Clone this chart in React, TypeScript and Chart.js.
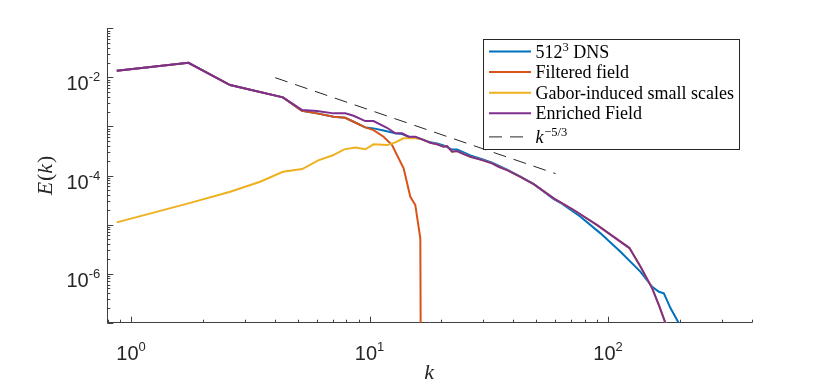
import React, { useEffect, useRef } from 'react';
import { Chart, registerables } from 'chart.js';

Chart.register(...registerables);

// ---------- data ----------
const kDNS = [0.871, 1.74, 2.603, 4.331, 5.204, 6.016, 7.064, 7.907, 8.568, 9.594, 10.39, 11.45, 12.82, 13.68, 14.58, 15.55, 16.6, 17.97, 19.18, 20.44, 22.17, 23.27, 24.8, 26.46, 29.64, 32.63, 37.72, 42.9, 48.77, 59.18, 63.14, 76.6, 92.93, 112.7, 136.8, 153.1, 163.3, 171.3, 182.8, 198.1];
const eDNS = [0.01363, 0.01984, 0.00697, 0.00391, 0.002086, 0.001846, 0.001574, 0.001502, 0.001245, 0.000957, 0.000913, 0.000823, 0.000722, 0.000699, 0.000616, 0.000599, 0.000545, 0.000474, 0.000452, 0.000411, 0.000338, 0.000338, 0.000296, 0.000257, 0.000216, 0.000182, 0.000132, 0.0000951, 0.0000669, 0.0000331, 0.0000278, 0.00001443, 0.00000662, 0.00000279, 0.00000109, 5.4e-7, 4.27e-7, 3.96e-7, 1.96e-7, 9.7e-8];

const kFiltered = [0.871, 1.74, 2.603, 4.331, 5.204, 6.016, 7.064, 7.907, 8.568, 9.594, 10.39, 11.45, 12.42, 13.89, 14.82, 15.55, 16.32, 16.53];
const eFiltered = [0.01363, 0.01984, 0.00697, 0.00391, 0.002086, 0.001846, 0.001574, 0.001502, 0.001245, 0.000957, 0.000843, 0.000616, 0.000417, 0.0001398, 0.0000369, 0.000025, 0.00000524, 1e-12];

const kGabor = [0.871, 1.74, 2.603, 3.478, 4.331, 5.22, 6.091, 6.976, 7.831, 8.709, 9.594, 10.39, 11.87, 12.82, 13.89, 15.55, 16.6, 17.97, 19.18, 20.44, 21.13, 22.17, 23.27, 24.8, 26.46, 29.64, 32.63, 34.77, 37.72, 42.9, 48.77, 59.18, 71.8, 90.0, 122.9, 136.8, 153.1, 163.3, 174.1];
const eGabor = [1.109e-5, 2.7e-5, 4.66e-5, 7.46e-5, 1.192e-4, 1.353e-4, 2.035e-4, 2.549e-4, 3.41e-4, 3.71e-4, 3.42e-4, 4.31e-4, 4.17e-4, 4.74e-4, 5.71e-4, 5.71e-4, 5.45e-4, 4.65e-4, 4.31e-4, 3.85e-4, 3.98e-4, 3.05e-4, 3.15e-4, 2.73e-4, 2.41e-4, 2.06e-4, 1.77e-4, 1.507e-4, 1.291e-4, 9.42e-5, 6.69e-5, 3.42e-5, 1.98e-5, 9.77e-6, 3.32e-6, 1.381e-6, 5.01e-7, 2.29e-7, 9.7e-8];

const kEnriched = [0.871, 1.74, 2.603, 4.331, 5.22, 6.016, 7.064, 7.907, 8.568, 9.594, 10.39, 11.83, 12.82, 13.68, 14.58, 15.55, 16.6, 17.97, 19.18, 20.44, 21.13, 22.17, 23.27, 24.8, 26.46, 29.64, 32.63, 34.77, 37.72, 42.9, 48.77, 59.18, 71.8, 90.0, 122.9, 136.8, 153.1, 163.3, 174.1];
const eEnriched = [0.01363, 0.01984, 0.00697, 0.00391, 0.002156, 0.002056, 0.001846, 0.001846, 0.00165, 0.001287, 0.001287, 0.000939, 0.000722, 0.000722, 0.000616, 0.000616, 0.000545, 4.65e-4, 4.31e-4, 3.85e-4, 3.98e-4, 3.05e-4, 3.15e-4, 2.73e-4, 2.41e-4, 2.06e-4, 1.77e-4, 1.507e-4, 1.291e-4, 9.42e-5, 6.69e-5, 3.42e-5, 1.98e-5, 9.77e-6, 3.32e-6, 1.381e-6, 5.01e-7, 2.29e-7, 9.7e-8];

const kRef = [4.02, 60.2];
const eRef = [0.00986, 0.000109];

const legendLabels = ['512^3 DNS', 'Filtered field', 'Gabor-induced small scales', 'Enriched Field', '$k^{-5/3}$'];
const xTitle = '$k$';
const yTitle = '$E(k)$';
const xLabelExponents = [0, 1, 2];
const yLabelExponents = [-6, -4, -2];
const xRange = [0.795, 400];
const yRange = [1e-7, 1e-1];

// ---------- styles ----------
const COLORS = ['#0072BD', '#D95319', '#EDB120', '#7E2F8E', '#262626'];
const AXIS = '#404040';
const SANS = '"Liberation Sans", Arial, Helvetica, sans-serif';
const SERIF = '"Liberation Serif", "Times New Roman", serif';
const DASH = [13, 8];

type Seg = { t: string; sup: boolean; it: boolean };

function parseTex(src: string): Seg[] {
  let s = src;
  let math = false;
  if (s.startsWith('$') && s.endsWith('$')) {
    math = true;
    s = s.slice(1, -1);
  }
  const out: Seg[] = [];
  const push = (t: string, sup: boolean) => {
    for (const ch of t) {
      const c = math && ch === '-' ? '\u2212' : ch;
      const it = math && /[A-Za-z]/.test(ch);
      const last = out[out.length - 1];
      if (last && last.sup === sup && last.it === it) last.t += c;
      else out.push({ t: c, sup, it });
    }
  };
  let i = 0;
  let buf = '';
  while (i < s.length) {
    if (s[i] === '^') {
      push(buf, false);
      buf = '';
      i++;
      let sup = '';
      if (s[i] === '{') {
        const j = s.indexOf('}', i);
        sup = s.slice(i + 1, j);
        i = j + 1;
      } else {
        sup = s[i];
        i++;
      }
      push(sup, true);
    } else {
      buf += s[i];
      i++;
    }
  }
  push(buf, false);
  return out;
}

function drawRich(
  ctx: CanvasRenderingContext2D,
  segs: Seg[],
  x: number,
  y: number,
  family: string,
  size: number,
  supSize: number,
  raise: number,
  align: 'left' | 'right' | 'center'
) {
  const fontOf = (s: Seg) => `${s.it ? 'italic ' : ''}${s.sup ? supSize : size}px ${family}`;
  let w = 0;
  const widths: number[] = [];
  for (const s of segs) {
    ctx.font = fontOf(s);
    const sw = ctx.measureText(s.t).width + (s.it ? size * 0.04 : 0);
    widths.push(sw);
    w += sw;
  }
  let cx = align === 'left' ? x : align === 'right' ? x - w : x - w / 2;
  ctx.textAlign = 'left';
  ctx.textBaseline = 'alphabetic';
  segs.forEach((s, i) => {
    ctx.font = fontOf(s);
    ctx.fillText(s.t, cx, s.sup ? y - raise : y);
    cx += widths[i];
  });
  return w;
}

const overlay = {
  id: 'overlay',
  afterDraw(chart: any) {
    const { ctx, chartArea: ca, scales } = chart;
    const xs = scales.x;
    const ys = scales.y;
    ctx.save();

    // inward tick marks
    ctx.strokeStyle = AXIS;
    ctx.lineWidth = 1;
    ctx.beginPath();
    for (let d = -1; d <= 3; d++) {
      for (let m = 1; m <= 9; m++) {
        const v = m * Math.pow(10, d);
        if (v < xRange[0] * 0.999 || v > xRange[1] * 1.001) continue;
        const px = Math.round(xs.getPixelForValue(v)) + 0.5;
        const len = m === 1 ? 6 : 3;
        ctx.moveTo(px, ca.bottom);
        ctx.lineTo(px, ca.bottom - len);
      }
    }
    for (let d = -8; d <= 0; d++) {
      for (let m = 1; m <= 9; m++) {
        const v = m * Math.pow(10, d);
        if (v < yRange[0] * 0.999 || v > yRange[1] * 1.001) continue;
        const py = Math.round(ys.getPixelForValue(v)) + 0.5;
        const len = m === 1 ? 6 : 3;
        ctx.moveTo(ca.left, py);
        ctx.lineTo(ca.left + len, py);
      }
    }
    ctx.stroke();

    // tick labels
    ctx.fillStyle = '#262626';
    for (const e of xLabelExponents) {
      const px = xs.getPixelForValue(Math.pow(10, e));
      drawRich(ctx, parseTex(`10^{${e}}`), px, ca.bottom + 37, SANS, 20, 13, 9, 'center');
    }
    for (const e of yLabelExponents) {
      const py = ys.getPixelForValue(Math.pow(10, e));
      drawRich(ctx, parseTex(`10^{${e}}`), ca.left - 7, py + 13, SANS, 20, 13, 9, 'right');
    }

    // axis titles
    ctx.fillStyle = '#262626';
    drawRich(ctx, parseTex(xTitle), (ca.left + ca.right) / 2, ca.bottom + 56, SERIF, 22, 15, 8, 'center');
    ctx.save();
    ctx.translate(ca.left - 55, (ca.top + ca.bottom) / 2);
    ctx.rotate(-Math.PI / 2);
    drawRich(ctx, parseTex(yTitle), 0, 0, SERIF, 22, 15, 8, 'center');
    ctx.restore();

    // legend
    const fs = 18;
    let maxW = 0;
    const parsed = legendLabels.map((l) => parseTex(l));
    for (const segs of parsed) {
      let w = 0;
      for (const s of segs) {
        ctx.font = `${s.it ? 'italic ' : ''}${s.sup ? 12.5 : fs}px ${SERIF}`;
        w += ctx.measureText(s.t).width;
      }
      maxW = Math.max(maxW, w);
    }
    const boxW = 52 + maxW + 6;
    const boxRight = ca.right - 11.7;
    const boxLeft = Math.round(boxRight - boxW) + 0.5;
    const boxTop = Math.round(ca.top + 11) + 0.5;
    const boxH = 110;
    ctx.fillStyle = '#ffffff';
    ctx.fillRect(boxLeft, boxTop, boxRight - boxLeft, boxH);
    ctx.strokeStyle = '#262626';
    ctx.lineWidth = 1;
    ctx.setLineDash([]);
    ctx.strokeRect(boxLeft, boxTop, Math.round(boxRight - boxLeft), boxH);
    parsed.forEach((segs, i) => {
      const cy = boxTop + 12 + i * 20.6 + (i === 4 ? 3 : 0);
      const ds = chart.data.datasets[i];
      ctx.strokeStyle = ds.borderColor;
      ctx.lineWidth = ds.borderWidth;
      ctx.setLineDash(ds.borderDash || []);
      ctx.beginPath();
      ctx.moveTo(boxLeft + 5.5, cy);
      ctx.lineTo(boxLeft + 47.5, cy);
      ctx.stroke();
      ctx.setLineDash([]);
      ctx.fillStyle = '#000000';
      drawRich(ctx, segs, boxLeft + 52, cy + 6, SERIF, fs, 12.5, 7, 'left');
    });

    ctx.restore();
  },
};

function pts(k: number[], e: number[]) {
  return k.map((v, i) => ({ x: v, y: e[i] }));
}

export default function App() {
  const ref = useRef<HTMLCanvasElement | null>(null);

  useEffect(() => {
    if (!ref.current) return;
    const series = [
      { k: kDNS, e: eDNS, order: 4 },
      { k: kFiltered, e: eFiltered, order: 3 },
      { k: kGabor, e: eGabor, order: 2 },
      { k: kEnriched, e: eEnriched, order: 1 },
      { k: kRef, e: eRef, order: 0 },
    ];
    const chart = new Chart(ref.current, {
      type: 'line',
      data: {
        datasets: series.map((s, i) => ({
          label: legendLabels[i],
          data: pts(s.k, s.e),
          borderColor: COLORS[i],
          backgroundColor: COLORS[i],
          borderWidth: i === 4 ? 1 : 2,
          borderDash: i === 4 ? DASH : undefined,
          pointRadius: 0,
          tension: 0,
          fill: false,
          order: s.order,
        })),
      },
      options: {
        animation: false,
        responsive: false,
        maintainAspectRatio: false,
        parsing: false as any,
        layout: { padding: { left: 0, right: 78.3, top: 28.3, bottom: 0 } },
        plugins: { legend: { display: false }, tooltip: { enabled: false } },
        scales: {
          x: {
            type: 'logarithmic',
            min: xRange[0],
            max: xRange[1],
            grid: { display: false },
            ticks: { display: false },
            border: { display: true, color: AXIS, width: 1 },
            afterFit: (s: any) => {
              s.height = 65.3;
            },
          },
          y: {
            type: 'logarithmic',
            min: yRange[0],
            max: yRange[1],
            grid: { display: false },
            ticks: { display: false },
            border: { display: true, color: AXIS, width: 1 },
            afterFit: (s: any) => {
              s.width = 107.3;
            },
          },
        },
      },
      plugins: [overlay],
    });
    return () => chart.destroy();
  }, []);

  return (
    <div style={{ position: 'fixed', left: 0, top: 0, width: 830, height: 388, background: '#fff' }}>
      <canvas ref={ref} width={830} height={388} style={{ display: 'block' }} />
    </div>
  );
}
